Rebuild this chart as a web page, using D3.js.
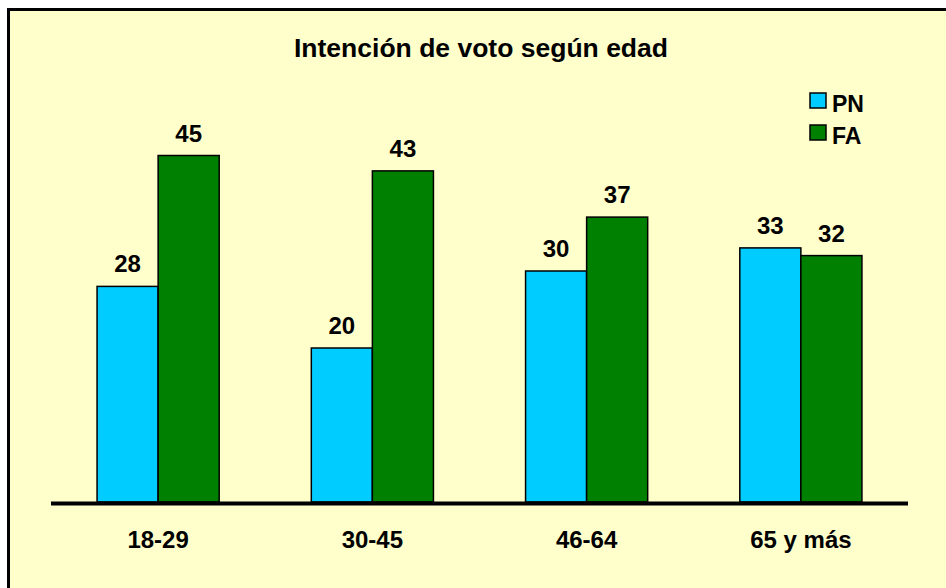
<!DOCTYPE html>
<html>
<head>
<meta charset="utf-8">
<script src="https://cdn.jsdelivr.net/npm/d3@7"></script>
<style>
    html, body { margin: 0; padding: 0; background: #fff; }
    svg text { font-family: "Liberation Sans", Arial, sans-serif; font-weight: bold; fill: #000; }
</style>
</head>
<body>
<svg id="chart" width="946" height="588"></svg>
<script>
const categories = ["18-29", "30-45", "46-64", "65 y más"];
const series = ["PN", "FA"];
const pnValues = [28, 20, 30, 33];
const faValues = [45, 43, 37, 32];
const colors = { PN: "#00CCFF", FA: "#008000" };

const svg = d3.select("#chart");

// frame
svg.append("rect")
    .attr("x", 8.5)
    .attr("y", 9.5)
    .attr("width", 960)
    .attr("height", 600)
    .attr("fill", "#FFFFCC")
    .attr("stroke", "#000")
    .attr("stroke-width", 3);

const x = d3
    .scaleBand()
    .domain(categories)
    .range([51, 908])
    .paddingInner(0.43)
    .paddingOuter(0.215);

const xs = d3.scaleBand().domain(series).range([0, x.bandwidth()]);

const y = d3.scaleLinear().domain([0, 60]).range([502, 40]);

const rows = categories.map((c, i) => ({
    cat: c,
    vals: [
        { key: "PN", v: pnValues[i] },
        { key: "FA", v: faValues[i] }
    ]
}));

const g = svg
    .selectAll("g.group")
    .data(rows)
    .enter()
    .append("g")
    .attr("transform", d => `translate(${x(d.cat)},0)`);

g.selectAll("rect")
    .data(d => d.vals)
    .enter()
    .append("rect")
    .attr("x", d => xs(d.key))
    .attr("y", d => y(d.v))
    .attr("width", xs.bandwidth())
    .attr("height", d => y(0) - y(d.v))
    .attr("fill", d => colors[d.key])
    .attr("stroke", "#000")
    .attr("stroke-width", 1.5);

g.selectAll("text")
    .data(d => d.vals)
    .enter()
    .append("text")
    .attr("x", d => xs(d.key) + xs.bandwidth() / 2)
    .attr("y", d => y(d.v) - 14)
    .attr("text-anchor", "middle")
    .style("font-size", "24px")
    .text(d => d.v);

// axis line
svg.append("line")
    .attr("x1", 51)
    .attr("x2", 908)
    .attr("y1", 503.5)
    .attr("y2", 503.5)
    .attr("stroke", "#000")
    .attr("stroke-width", 4);

svg.selectAll("text.cat")
    .data(categories)
    .enter()
    .append("text")
    .attr("class", "cat")
    .attr("x", d => x(d) + x.bandwidth() / 2)
    .attr("y", 548)
    .attr("text-anchor", "middle")
    .style("font-size", "24px")
    .text(d => d);

svg.append("text")
    .attr("x", 481)
    .attr("y", 57)
    .attr("text-anchor", "middle")
    .style("font-size", "26.5px")
    .text("Intención de voto según edad");

// legend
const leg = svg
    .selectAll("g.legend")
    .data(series)
    .enter()
    .append("g")
    .attr("transform", (_, i) => `translate(810, ${93 + i * 32})`);

leg.append("rect")
    .attr("width", 16)
    .attr("height", 15)
    .attr("fill", d => colors[d])
    .attr("stroke", "#000")
    .attr("stroke-width", 1.5);

leg.append("text")
    .attr("x", 22)
    .attr("y", 19)
    .style("font-size", "23px")
    .text(d => d);
</script>
</body>
</html>
